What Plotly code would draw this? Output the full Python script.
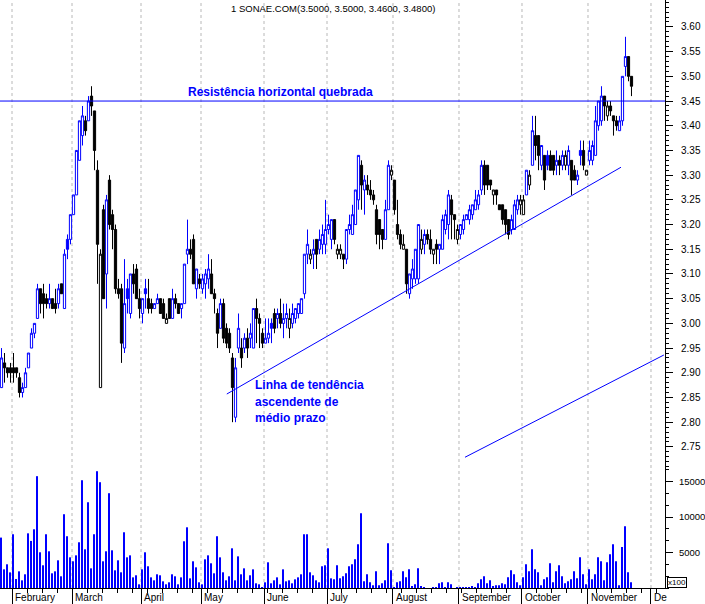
import plotly.graph_objects as go

# ---------------- data ----------------
month_names = ["February", "March", "April", "May", "June", "July", "August",
               "September", "October", "November", "De"]
month_starts = [4, 24, 47, 67, 88, 109, 131, 153, 174, 196, 217]

opens = [
    2.87, 2.92, 2.91, 2.91,
    2.91, 2.91, 2.89, 2.86, 2.87, 2.91, 2.95, 2.98, 3.01, 3.07, 3.06, 3.05, 3.04, 3.05, 3.04, 3.04, 3.08, 3.03, 3.17, 3.17,
    3.22, 3.26, 3.33, 3.38, 3.41, 3.41, 3.46, 3.43, 3.31, 2.87, 3.23, 3.10, 3.29, 3.22, 3.19, 3.07, 3.07, 2.95, 3.07, 3.02, 3.10, 3.11, 3.05,
    3.02, 3.07, 3.05, 3.04, 3.03, 3.04, 3.05, 3.04, 3.00, 3.05, 3.01, 3.05, 3.04, 3.03, 3.04, 3.14, 3.15, 3.17, 3.07, 3.09,
    3.07, 3.08, 3.09, 3.10, 3.06, 3.02, 2.99, 3.04, 2.99, 2.98, 2.93, 2.81, 2.95, 2.95, 2.95, 2.97, 2.97, 2.95, 3.03, 3.01, 2.98,
    2.96, 2.97, 3.00, 3.02, 3.01, 3.02, 3.00, 3.01, 2.99, 3.00, 3.01, 3.02, 3.02, 3.06, 3.14, 3.13, 3.14, 3.17, 3.15, 3.16, 3.16,
    3.19, 3.17, 3.21, 3.14, 3.14, 3.14, 3.13, 3.19, 3.18, 3.20, 3.25, 3.32, 3.27, 3.28, 3.27, 3.26, 3.23, 3.21, 3.19, 3.17, 3.23, 3.30,
    3.29, 3.20, 3.18, 3.15, 3.15, 3.06, 3.09, 3.09, 3.09, 3.15, 3.16, 3.18, 3.17, 3.14, 3.16, 3.15, 3.15, 3.19, 3.20, 3.25, 3.22, 3.17,
    3.18, 3.19, 3.21, 3.21, 3.22, 3.23, 3.24, 3.27, 3.32, 3.32, 3.29, 3.26, 3.27, 3.24, 3.24, 3.23, 3.21, 3.19, 3.19, 3.23, 3.24,
    3.22, 3.26, 3.28, 3.32, 3.38, 3.38, 3.32, 3.34, 3.34, 3.34, 3.34, 3.32, 3.33, 3.32, 3.32, 3.32, 3.33, 3.31, 3.29, 3.35, 3.35, 3.30,
    3.33, 3.33, 3.34, 3.40, 3.41, 3.46, 3.42, 3.44, 3.42, 3.41, 3.39, 3.41, 3.52, 3.54, 3.50,
]
highs = [
    2.95, 2.94, 2.91, 2.92,
    2.94, 2.91, 2.90, 2.88, 2.91, 2.94, 2.99, 3.00, 3.08, 3.07, 3.08, 3.06, 3.08, 3.05, 3.07, 3.08, 3.08, 3.15, 3.18, 3.22,
    3.26, 3.35, 3.41, 3.44, 3.42, 3.46, 3.48, 3.43, 3.33, 3.15, 3.24, 3.26, 3.30, 3.23, 3.20, 3.09, 3.08, 3.13, 3.09, 3.10, 3.12, 3.12, 3.07,
    3.05, 3.09, 3.09, 3.05, 3.04, 3.06, 3.05, 3.05, 3.02, 3.05, 3.07, 3.06, 3.04, 3.04, 3.12, 3.21, 3.17, 3.18, 3.11, 3.10,
    3.10, 3.11, 3.14, 3.13, 3.07, 3.03, 3.05, 3.05, 3.00, 2.99, 2.94, 2.93, 3.02, 2.97, 2.98, 2.99, 3.00, 3.03, 3.05, 3.02, 2.99,
    3.01, 3.01, 3.01, 3.03, 3.03, 3.05, 3.04, 3.04, 3.03, 3.04, 3.03, 3.04, 3.05, 3.14, 3.19, 3.15, 3.17, 3.17, 3.19, 3.20, 3.25,
    3.22, 3.21, 3.21, 3.16, 3.16, 3.14, 3.19, 3.22, 3.24, 3.27, 3.34, 3.33, 3.30, 3.30, 3.29, 3.27, 3.24, 3.21, 3.19, 3.25, 3.33, 3.32,
    3.29, 3.25, 3.19, 3.18, 3.15, 3.10, 3.13, 3.15, 3.20, 3.19, 3.19, 3.19, 3.19, 3.15, 3.17, 3.16, 3.22, 3.23, 3.27, 3.26, 3.22, 3.20,
    3.20, 3.22, 3.22, 3.24, 3.24, 3.27, 3.27, 3.33, 3.33, 3.32, 3.29, 3.27, 3.27, 3.24, 3.24, 3.23, 3.21, 3.22, 3.25, 3.26, 3.26,
    3.26, 3.31, 3.31, 3.42, 3.42, 3.38, 3.36, 3.34, 3.35, 3.35, 3.34, 3.35, 3.34, 3.35, 3.35, 3.36, 3.33, 3.32, 3.31, 3.37, 3.37, 3.31,
    3.37, 3.37, 3.44, 3.45, 3.48, 3.46, 3.45, 3.45, 3.42, 3.42, 3.42, 3.50, 3.58, 3.54, 3.50,
]
lows = [
    2.87, 2.88, 2.89, 2.88,
    2.88, 2.89, 2.85, 2.85, 2.87, 2.91, 2.95, 2.97, 3.01, 3.02, 3.01, 3.03, 3.03, 3.03, 3.02, 3.03, 3.06, 3.03, 3.13, 3.16,
    3.22, 3.26, 3.33, 3.36, 3.38, 3.41, 3.42, 3.31, 3.08, 2.87, 3.05, 3.03, 3.19, 3.15, 3.06, 3.05, 2.92, 2.94, 3.02, 3.01, 3.06, 3.05, 3.01,
    3.00, 3.03, 3.02, 3.02, 3.03, 3.04, 3.02, 3.01, 3.00, 3.01, 3.01, 3.03, 3.02, 3.01, 3.04, 3.12, 3.13, 3.08, 3.05, 3.07,
    3.06, 3.05, 3.07, 3.06, 3.02, 2.95, 2.99, 2.96, 2.95, 2.94, 2.80, 2.80, 2.94, 2.91, 2.94, 2.93, 2.95, 2.95, 2.96, 2.95, 2.95,
    2.96, 2.96, 2.96, 2.98, 2.99, 2.99, 2.97, 2.99, 2.97, 2.99, 3.00, 3.01, 3.02, 3.05, 3.12, 3.12, 3.11, 3.11, 3.14, 3.14, 3.14,
    3.18, 3.15, 3.16, 3.13, 3.13, 3.11, 3.12, 3.18, 3.18, 3.20, 3.23, 3.23, 3.22, 3.26, 3.25, 3.24, 3.16, 3.15, 3.15, 3.17, 3.23, 3.29,
    3.22, 3.17, 3.15, 3.15, 3.06, 3.05, 3.07, 3.08, 3.08, 3.14, 3.14, 3.16, 3.14, 3.12, 3.12, 3.12, 3.15, 3.18, 3.17, 3.17, 3.17, 3.16,
    3.17, 3.18, 3.21, 3.20, 3.21, 3.23, 3.23, 3.26, 3.26, 3.27, 3.27, 3.24, 3.24, 3.23, 3.20, 3.18, 3.17, 3.18, 3.19, 3.22, 3.22,
    3.22, 3.26, 3.27, 3.32, 3.33, 3.31, 3.31, 3.27, 3.31, 3.31, 3.30, 3.30, 3.30, 3.31, 3.31, 3.30, 3.26, 3.29, 3.28, 3.32, 3.31, 3.30,
    3.32, 3.32, 3.34, 3.39, 3.40, 3.41, 3.41, 3.42, 3.38, 3.39, 3.39, 3.40, 3.50, 3.49, 3.46,
]
closes = [
    2.93, 2.91, 2.90, 2.90,
    2.90, 2.90, 2.86, 2.87, 2.90, 2.94, 2.98, 3.00, 3.07, 3.04, 3.04, 3.04, 3.05, 3.03, 3.03, 3.07, 3.06, 3.14, 3.15, 3.22,
    3.26, 3.35, 3.41, 3.42, 3.39, 3.45, 3.44, 3.35, 3.16, 3.14, 3.05, 3.25, 3.20, 3.19, 3.07, 3.06, 2.96, 3.04, 3.05, 3.10, 3.08, 3.05, 3.03,
    3.05, 3.06, 3.03, 3.03, 3.04, 3.05, 3.02, 3.01, 3.01, 3.01, 3.05, 3.04, 3.02, 3.04, 3.12, 3.15, 3.14, 3.08, 3.11, 3.08,
    3.09, 3.10, 3.11, 3.06, 3.05, 2.98, 3.04, 2.97, 2.96, 2.95, 2.87, 2.91, 2.99, 2.93, 2.97, 2.95, 2.98, 3.03, 3.01, 3.00, 2.96,
    2.97, 2.98, 2.99, 2.99, 3.02, 3.00, 3.01, 3.02, 3.01, 3.02, 3.03, 3.04, 3.05, 3.14, 3.16, 3.14, 3.15, 3.14, 3.17, 3.18, 3.19,
    3.20, 3.21, 3.17, 3.15, 3.15, 3.13, 3.19, 3.20, 3.22, 3.27, 3.34, 3.28, 3.29, 3.27, 3.26, 3.25, 3.18, 3.18, 3.17, 3.23, 3.32, 3.31,
    3.23, 3.18, 3.16, 3.16, 3.08, 3.10, 3.11, 3.15, 3.20, 3.17, 3.18, 3.17, 3.15, 3.15, 3.15, 3.16, 3.21, 3.22, 3.26, 3.22, 3.21, 3.19,
    3.20, 3.21, 3.22, 3.23, 3.24, 3.25, 3.26, 3.32, 3.28, 3.28, 3.28, 3.27, 3.26, 3.23, 3.21, 3.20, 3.18, 3.21, 3.24, 3.25, 3.25,
    3.25, 3.31, 3.30, 3.39, 3.36, 3.34, 3.36, 3.29, 3.32, 3.31, 3.31, 3.33, 3.32, 3.34, 3.34, 3.35, 3.29, 3.29, 3.30, 3.34, 3.32, 3.31,
    3.35, 3.36, 3.41, 3.45, 3.46, 3.44, 3.44, 3.43, 3.41, 3.40, 3.41, 3.50, 3.54, 3.50, 3.48,
]
volumes = [
    7100, 2630, 3340, 2200,
    7570, 1270, 2350, 1080, 1930, 7700, 6630, 8270, 15750, 5030, 3200, 7570, 5170, 2070, 2350, 3900, 1650, 10390, 7290, 4320,
    3760, 4600, 6440, 15180, 5450, 12080, 2770, 7570, 16450, 14900, 3760, 5170, 13350, 5310, 2490, 3900, 2210, 7850, 4320, 4600, 1500, 1790, 520,
    2630, 5030, 3060, 1500, 1080, 1930, 1790, 940, 520, 800, 1930, 1650, 520, 1500, 6580, 8550, 1360, 3760, 2910, 800,
    520, 4040, 4600, 3480, 2070, 7290, 4320, 2210, 1080, 1650, 5590, 1080, 4460, 1930, 2770, 1080, 1790, 2630, 660, 520, 100,
    800, 3620, 660, 1080, 1500, 520, 2630, 940, 1080, 660, 1220, 1500, 1930, 7570, 7570, 2210, 1790, 1080, 800, 3060, 3200,
    5590, 1360, 1220, 3200, 1360, 1650, 2070, 3060, 3340, 4040, 6160, 10530, 940, 1930, 800, 380, 2350, 380, 660, 1080, 6300, 2490,
    140, 800, 940, 2350, 1500, 2630, 230, 520, 2770, 230, 90, 0, 0, 90, 90, 660, 800, 90, 800, 520, 0, 90,
    90, 90, 90, 90, 230, 90, 660, 1220, 1650, 660, 1080, 230, 380, 380, 660, 520, 1500, 2490, 1930, 800, 380,
    1500, 3340, 2350, 5450, 2630, 2210, 380, 1220, 1500, 3480, 800, 2350, 3200, 1650, 660, 940, 1220, 2350, 1360, 4320, 1930, 520,
    2630, 1220, 1930, 4320, 3760, 1080, 3620, 4750, 6160, 3760, 380, 5780, 8700, 2210, 800,
]

price_ticks = [round(2.75 + 0.05 * k, 2) for k in range(18)]
volume_ticks = [5000, 10000, 15000]

resistance_level = 3.45
trend_main_x = [75.1, 206.5]
trend_main_y = [2.857, 3.316]
trend_low_x = [154.5, 220.8]
trend_low_y = [2.729, 2.936]

# ---------------- styling ----------------
BLUE = "#0000ff"
BLACK = "#000000"
FONT = "Liberation Sans, Arial, sans-serif"

n = len(closes)
idx = list(range(n))

groups = {}
for i in idx:
    up = (i == 0) or (closes[i] > closes[i - 1])
    hollow = closes[i] >= opens[i]
    groups.setdefault((up, hollow), []).append(i)

fig = go.Figure()
for (up, hollow), members in groups.items():
    col = BLUE if up else BLACK
    fill = "#ffffff" if hollow else col
    fig.add_trace(go.Candlestick(
        x=members,
        open=[opens[i] for i in members],
        high=[highs[i] for i in members],
        low=[lows[i] for i in members],
        close=[closes[i] for i in members],
        increasing=dict(line=dict(color=col, width=1), fillcolor=fill),
        decreasing=dict(line=dict(color=col, width=1), fillcolor=fill),
        whiskerwidth=0, showlegend=False, hoverinfo="skip",
        xaxis="x", yaxis="y",
    ))

fig.add_trace(go.Bar(
    x=idx, y=volumes, width=0.34, marker=dict(color=BLUE, line=dict(width=0)),
    xaxis="x", yaxis="y2", showlegend=False, hoverinfo="skip",
))

PLOT_H = 588.0
split = (PLOT_H - 467.0) / PLOT_H
price_top = 3.6545
price_bottom = price_top - 467.0 * 0.002024
vol_top = (PLOT_H - 467.0) * 140.85

shapes = []
for s in month_starts:
    shapes.append(dict(type="line", xref="x", yref="paper", x0=s - 0.5, x1=s - 0.5,
                       y0=0, y1=1, layer="below",
                       line=dict(color="#b8b8b8", width=1, dash="3px,3px")))
shapes.append(dict(type="line", xref="paper", yref="y", x0=0, x1=1,
                   y0=resistance_level, y1=resistance_level, layer="above",
                   line=dict(color=BLUE, width=1)))
shapes.append(dict(type="line", xref="x", yref="y", x0=trend_main_x[0], x1=trend_main_x[1],
                   y0=trend_main_y[0], y1=trend_main_y[1], layer="above",
                   line=dict(color=BLUE, width=1)))
shapes.append(dict(type="line", xref="x", yref="y", x0=trend_low_x[0], x1=trend_low_x[1],
                   y0=trend_low_y[0], y1=trend_low_y[1], layer="above",
                   line=dict(color=BLUE, width=1)))

annotations = []
title_text = "1 SONAE.COM({:.4f}, {:.4f}, {:.4f}, {:.4f})".format(
    opens[-1], highs[-1], lows[-1], closes[-1])
annotations.append(dict(text=title_text, xref="paper", yref="paper", x=333 / 665, y=1 - 1.5 / PLOT_H,
                        xanchor="center", yanchor="top", showarrow=False,
                        font=dict(family=FONT, size=9.5, color=BLACK)))
annotations.append(dict(text="<b>Resistência horizontal quebrada</b>", xref="paper", yref="y",
                        x=186 / 665, y=resistance_level, xanchor="left", yanchor="bottom",
                        showarrow=False, font=dict(family=FONT, size=12, color=BLUE)))
for line_txt, ypx in [("Linha de tendência", 385), ("ascendente de", 401.5), ("médio prazo", 418)]:
    annotations.append(dict(text="<b>" + line_txt + "</b>", xref="paper", yref="paper",
                            x=253 / 665, y=1 - ypx / PLOT_H, xanchor="left", yanchor="middle",
                            showarrow=False, font=dict(family=FONT, size=12, color=BLUE)))
for name, s in zip(month_names, month_starts):
    annotations.append(dict(text=name, xref="x", yref="paper", x=s - 0.5, y=-9.5 / PLOT_H,
                            xanchor="left", yanchor="middle", xshift=1, showarrow=False,
                            font=dict(family=FONT, size=10, color=BLACK)))
annotations.append(dict(text="x100", xref="paper", yref="paper", x=667 / 665, y=0,
                        xanchor="left", yanchor="bottom", showarrow=False,
                        bordercolor=BLACK, borderwidth=1, borderpad=0,
                        font=dict(family=FONT, size=8, color=BLACK)))

fig.update_layout(
    width=705, height=604,
    margin=dict(l=0, r=40, t=0, b=16, autoexpand=False),
    paper_bgcolor="white", plot_bgcolor="white",
    showlegend=False,
    boxgap=0.14, boxgroupgap=0.14,
    shapes=shapes, annotations=annotations,
    xaxis=dict(
        range=[-0.5, 221.17], anchor="y2", rangeslider=dict(visible=False),
        showgrid=False, zeroline=False, showline=True, linecolor=BLACK, linewidth=1,
        ticks="outside", tickmode="array", tickvals=[s - 0.5 for s in month_starts],
        ticklen=16, tickwidth=1, tickcolor=BLACK, showticklabels=False,
        minor=dict(ticks="outside", ticklen=4, tickcolor=BLACK, tickmode="linear",
                   tick0=3.5, dtick=5, showgrid=False),
    ),
    yaxis=dict(
        domain=[split, 1], range=[price_bottom, price_top], side="right", anchor="x",
        showgrid=False, zeroline=False, showline=True, linecolor=BLACK, linewidth=1,
        ticks="outside", ticklen=7, tickcolor=BLACK, tickmode="array",
        tickvals=price_ticks, ticktext=["{:.2f}".format(v) for v in price_ticks],
        tickfont=dict(family=FONT, size=10, color=BLACK), ticklabelstandoff=6,
        minor=dict(ticks="outside", ticklen=3, tickcolor=BLACK, tickmode="linear",
                   tick0=2.75, dtick=0.01, showgrid=False),
    ),
    yaxis2=dict(
        domain=[0, split], range=[0, vol_top], side="right", anchor="x",
        showgrid=False, zeroline=False, showline=True, linecolor=BLACK, linewidth=1,
        ticks="outside", ticklen=7, tickcolor=BLACK, tickmode="array",
        tickvals=volume_ticks, ticktext=[str(v) for v in volume_ticks],
        tickfont=dict(family=FONT, size=9.5, color=BLACK), ticklabelstandoff=4,
        minor=dict(ticks="outside", ticklen=3, tickcolor=BLACK, tickmode="linear",
                   tick0=0, dtick=5000 / 3, showgrid=False),
    ),
)

fig.write_html("out.html", config={"displayModeBar": False},
               post_script="document.body.style.margin='0';document.body.style.overflow='hidden';")
